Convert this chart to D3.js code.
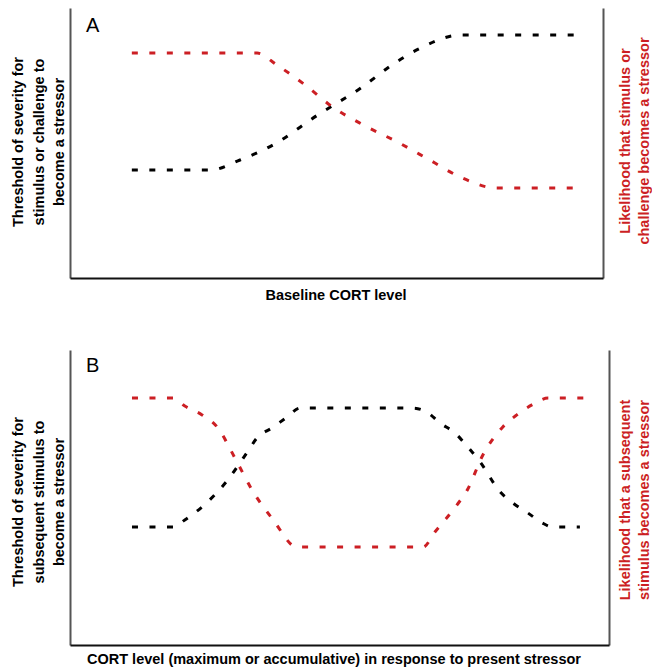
<!DOCTYPE html>
<html>
<head>
<meta charset="utf-8">
<script src="https://cdn.jsdelivr.net/npm/d3@7"></script>
<style>
  body { margin: 0; background: #fff; }
  svg { display: block; }
  text { font-family: "Liberation Sans", Arial, Helvetica, sans-serif; }
</style>
</head>
<body>
<svg id="chart" width="652" height="669"></svg>
<script>
// Conceptual curves on an arbitrary 0–100 scale (x: CORT level, y: relative level)
const thresholdA = [[11.6,40],[26.3,40],[31.9,43.7],[38.1,49.3],[46.5,60.4],[54.8,70.7],[60.4,78.9],[66.2,85.6],[73.2,90],[96.2,90]];
const likelihoodA = [[11.6,83.3],[35.1,83.3],[38.8,78.9],[44.1,71.5],[49.3,63.3],[55.0,56.7],[61.4,50.4],[67.5,43.7],[73.2,37.4],[80.1,33.3],[96.2,33.3]];
const thresholdB = [[11.5,40],[19.1,40],[21.3,42.4],[24.5,46.8],[28.8,54.9],[32.8,65.1],[34.7,70.2],[37.5,73.6],[40.3,77.3],[42.7,80.3],[63.6,80.3],[66.2,79.0],[68.6,75.3],[71.4,71.9],[73.8,67.1],[76.1,62.0],[79.8,51.9],[82.2,48.1],[85.0,44.7],[87.6,41.4],[89.6,40],[94.6,40]];
const likelihoodB = [[11.5,83.7],[19.1,83.7],[21.3,81.0],[24.5,78.0],[27.3,73.9],[30.6,63.4],[33.8,52.5],[37.7,42.4],[42.1,33.2],[65.5,33.2],[67.7,38.3],[71.8,47.5],[73.7,52.5],[76.6,64.4],[80.3,73.9],[82.9,78.0],[85.7,81.4],[88.7,83.7],[96.0,83.7]];

const panelLetters = ["A", "B"];
const xTitles = ["Baseline CORT level", "CORT level (maximum or accumulative) in response to present stressor"];
const leftTitles = [
  ["Threshold of severity for", "stimulus or challenge to", "become a stressor"],
  ["Threshold of severity for", "subsequent stimulus to", "become a stressor"]
];
const rightTitles = [
  ["Likelihood that stimulus or", "challenge becomes a stressor"],
  ["Likelihood that a subsequent", "stimulus becomes a stressor"]
];

const RED = "#cc1f24";
const svg = d3.select("#chart");

const panels = [
  { left: 70, right: 603, top: 8, bottom: 278, threshold: thresholdA, likelihood: likelihoodA,
    letterY: 32, xTitleX: 336, xTitleY: 300, leftY: 142, leftX: [22.5, 43.5, 64], rightY: 141, rightX: [630, 648.5] },
  { left: 70, right: 609, top: 350, bottom: 645, threshold: thresholdB, likelihood: likelihoodB,
    letterY: 372, xTitleX: 334, xTitleY: 663.5, leftY: 502, leftX: [22.5, 43.5, 64], rightY: 500, rightX: [630, 648.5] }
];

panels.forEach((p, i) => {
  const x = d3.scaleLinear().domain([0, 100]).range([p.left, p.right]);
  const y = d3.scaleLinear().domain([0, 100]).range([p.bottom, p.top]);
  const g = svg.append("g");

  // Frame: left, right and bottom axes without ticks
  const styleAxis = (sel, color) => {
    sel.select(".domain").attr("stroke", color).attr("stroke-width", 2);
    sel.selectAll(".tick").remove();
  };
  g.append("g").attr("transform", `translate(${p.left},0)`)
    .call(d3.axisLeft(y).tickValues([]).tickSizeOuter(0)).call(s => styleAxis(s, "#555"));
  g.append("g").attr("transform", `translate(${p.right},0)`)
    .call(d3.axisRight(y).tickValues([]).tickSizeOuter(0)).call(s => styleAxis(s, "#555"));
  g.append("g").attr("transform", `translate(0,${p.bottom})`)
    .call(d3.axisBottom(x).tickValues([]).tickSizeOuter(0)).call(s => styleAxis(s, "#111"));

  const line = d3.line().x(d => x(d[0])).y(d => y(d[1])).curve(d3.curveMonotoneX);

  g.append("path").datum(p.threshold)
    .attr("d", line).attr("fill", "none").attr("stroke", "#000")
    .attr("stroke-width", 3).attr("stroke-dasharray", "6,11.5");
  g.append("path").datum(p.likelihood)
    .attr("d", line).attr("fill", "none").attr("stroke", RED)
    .attr("stroke-width", 3).attr("stroke-dasharray", "6,11.5");

  // Panel letter
  g.append("text").attr("x", 86).attr("y", p.letterY)
    .attr("font-size", 20).attr("fill", "#000").text(panelLetters[i]);

  // Bottom title
  g.append("text").attr("x", p.xTitleX).attr("y", p.xTitleY)
    .attr("text-anchor", "middle").attr("font-size", 14.5).attr("font-weight", "bold")
    .attr("fill", "#000").text(xTitles[i]);

  // Left title (rotated)
  leftTitles[i].forEach((t, j) => {
    g.append("text")
      .attr("transform", `translate(${p.leftX[j]},${p.leftY}) rotate(-90)`)
      .attr("text-anchor", "middle").attr("font-size", 14.5).attr("font-weight", "bold")
      .attr("fill", "#000").text(t);
  });

  // Right title (rotated, red)
  rightTitles[i].forEach((t, j) => {
    g.append("text")
      .attr("transform", `translate(${p.rightX[j]},${p.rightY}) rotate(-90)`)
      .attr("text-anchor", "middle").attr("font-size", 14.5).attr("font-weight", "bold")
      .attr("fill", RED).text(t);
  });
});
</script>
</body>
</html>
